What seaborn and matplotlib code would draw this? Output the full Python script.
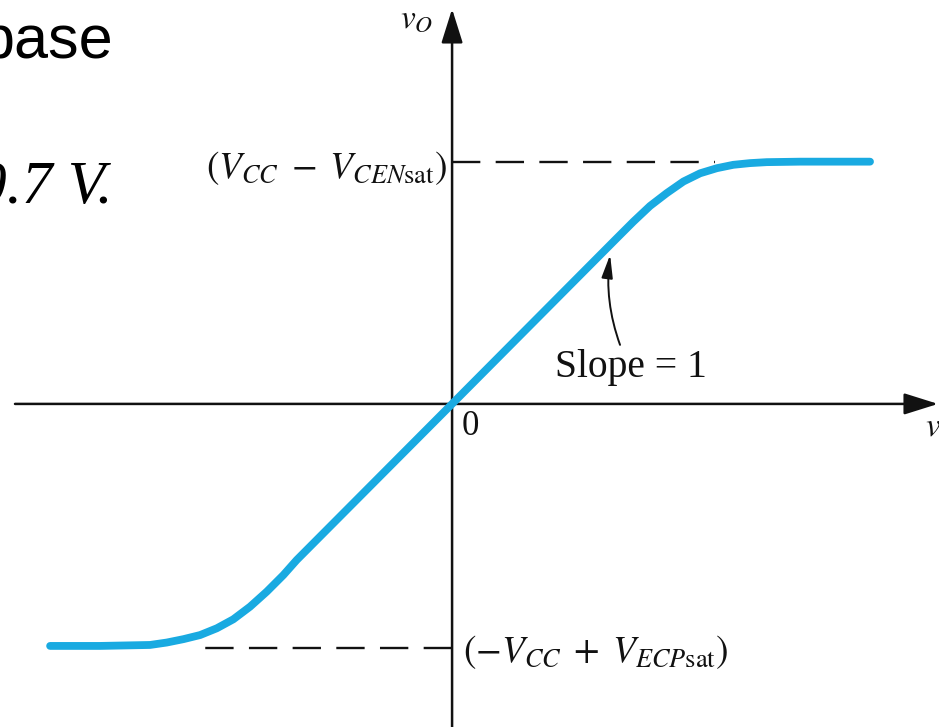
import matplotlib
matplotlib.use("Agg")
import matplotlib.pyplot as plt
import pandas as pd
import seaborn as sns

# Voltage transfer characteristic of the push-pull follower (volts)
v_in = [-16.61, -14.55, -12.48, -11.79, -11.10, -10.41, -9.72, -9.04, -8.35,
        -7.66, -6.97, -6.42, 0.0, 6.81, 7.49, 8.18, 8.87, 9.56, 10.25, 10.94,
        11.62, 12.31, 13.00, 14.38, 17.27]
v_out = [-10.0, -10.0, -9.96, -9.86, -9.72, -9.55, -9.27, -8.90, -8.38,
         -7.76, -7.07, -6.45, 0.0, 6.85, 7.53, 8.18, 8.71, 9.19, 9.53, 9.74,
         9.88, 9.95, 9.99, 10.01, 10.01]

# Saturation levels of the output and where their guide lines end on the v_I axis
sat_levels = [10.0, -10.1]
sat_guide_end = [10.87, -10.70]
sat_labels = [r"$(V_{CC}\;-\;V_{CEN\mathrm{sat}})$",
              r"$(-V_{CC}\;+\;V_{ECP\mathrm{sat}})$"]

slope_label = "Slope = 1"
slope_point = (6.53, 6.16)

sns.set_theme(style="white")
plt.rcParams["mathtext.fontset"] = "stix"
plt.rcParams["font.family"] = ["Liberation Serif", "DejaVu Serif"]

W, H, DPI = 939, 727, 100
fig = plt.figure(figsize=(W / DPI, H / DPI), dpi=DPI)
ax = fig.add_axes([0, 0, 1, 1])
ax.set_xlim(-18.68, 20.12)
ax.set_ylim(-13.35, 16.69)
ax.axis("off")

ink = "#111111"
blue = "#19aae1"

# coordinate axes with arrowheads
arrow = dict(arrowstyle="-|>,head_length=1.05,head_width=0.33",
             color=ink, lw=1.8, mutation_scale=20, shrinkA=0, shrinkB=0)
ax.annotate("", xy=(20.08, 0), xytext=(-18.06, 0), arrowprops=arrow)
ax.annotate("", xy=(0, 16.32), xytext=(0, -13.6), arrowprops=arrow)

# dashed guides to the saturation levels
for lvl, end in zip(sat_levels, sat_guide_end):
    ax.plot([0, end], [lvl, lvl], color=ink, lw=1.7,
            linestyle=(0, (12, 6.5)), solid_capstyle="butt", zorder=2)

# transfer curve
df = pd.DataFrame({"v_I": v_in, "v_O": v_out})
sns.lineplot(data=df, x="v_I", y="v_O", sort=False, estimator=None,
             color=blue, lw=5.6, ax=ax, zorder=3)
curve = ax.get_lines()[-1]
curve.set_solid_capstyle("round")
curve.set_solid_joinstyle("round")

# labels
ax.text(-0.21, 9.34, sat_labels[0], ha="right", va="baseline",
        fontsize=27, color=ink)
ax.text(0.45, -10.66, sat_labels[1], ha="left", va="baseline",
        fontsize=27, color=ink)
ax.text(-2.15, 15.54, r"$v_O$", ha="left", va="baseline", fontsize=24, color=ink)
ax.text(19.55, -1.36, r"$v_I$", ha="left", va="baseline", fontsize=24, color=ink)
ax.text(0.41, -1.28, "0", ha="left", va="baseline", fontsize=25, color=ink)
ax.text(7.40, 1.12, slope_label, ha="center", va="baseline", fontsize=28.5, color=ink)
ax.annotate("", xy=slope_point, xytext=(6.94, 2.44),
            arrowprops=dict(arrowstyle="-|>,head_length=0.7,head_width=0.17",
                            color=ink, lw=1.4, mutation_scale=20,
                            connectionstyle="arc3,rad=-0.12",
                            shrinkA=0, shrinkB=0))

# slide text overlapping the figure at the upper left
fig.text(113 / W, 1 - 58 / H, "base", ha="right", va="baseline",
         fontsize=44, family="Liberation Sans", color="black")
fig.text(113 / W, 1 - 203 / H, "0.7 V.", ha="right", va="baseline",
         fontsize=44, family="Liberation Serif", style="italic", color="black")

fig.savefig("out.png", dpi=DPI, facecolor="white")
